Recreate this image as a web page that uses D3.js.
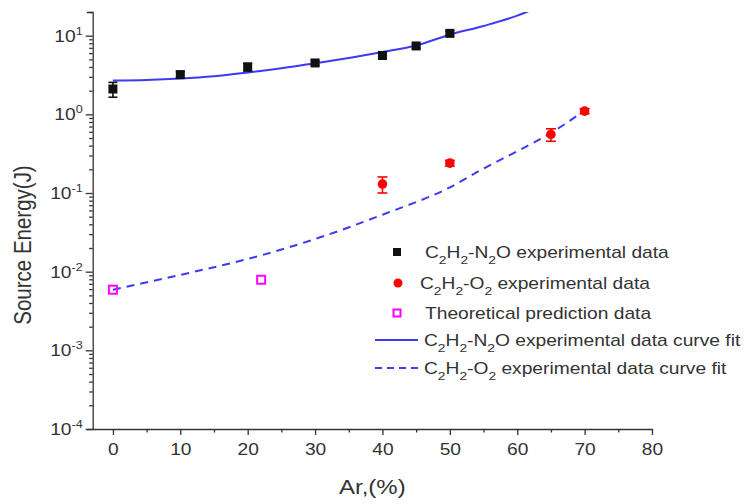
<!DOCTYPE html>
<html>
<head>
<meta charset="utf-8">
<script src="https://cdn.jsdelivr.net/npm/d3@7"></script>
<style>
  html, body { margin: 0; padding: 0; background: #fff; }
  svg { display: block; }
  text { font-family: "Liberation Sans", Arial, sans-serif; fill: #333; }
</style>
</head>
<body>
<svg id="chart" width="752" height="504"></svg>
<script>
// ---------------- data ----------------
const n2oAr = [0, 10, 20, 30, 40, 45, 50];
const n2oEnergy = [2.1, 3.2, 4.0, 4.5, 5.6, 7.4, 10.7];
const n2oErr = [0.45, 0.3, 0.45, 0.3, 0.4, 0.5, 0.8];

const o2Ar = [40, 50, 65, 70];
const o2Energy = [0.13, 0.24, 0.555, 1.1];
const o2Err = [0.03, 0.02, 0.1, 0.08];

const theoAr = [0, 22];
const theoEnergy = [0.0059, 0.0079];

const n2oFitAr = [0, 5, 10, 15, 20, 25, 30, 35, 40, 45, 50, 55, 60, 62];
const n2oFitEnergy = [2.7, 2.74, 2.85, 3.05, 3.4, 3.85, 4.45, 5.2, 6.2, 7.5, 10.3, 13.3, 18.0, 21.0];

const o2FitAr = [0, 10, 20, 30, 40, 50, 55, 60, 65, 70];
const o2FitEnergy = [0.0059, 0.0091, 0.0145, 0.026, 0.053, 0.118, 0.205, 0.34, 0.58, 1.12];

const xTickValues = [0, 10, 20, 30, 40, 50, 60, 70, 80];
const xMinorTicks = [5, 15, 25, 35, 45, 55, 65, 75];
const yMajorTicks = [1e-4, 1e-3, 1e-2, 1e-1, 1e0, 1e1];
const yTickExponents = ["-4", "-3", "-2", "-1", "0", "1"];

const xTitle = "Ar,(%)";
const yTitle = "Source Energy(J)";

const legendLabels = [
  [["C", 0], ["2", 1], ["H", 0], ["2", 1], ["-N", 0], ["2", 1], ["O experimental data", 0]],
  [["C", 0], ["2", 1], ["H", 0], ["2", 1], ["-O", 0], ["2", 1], [" experimental data", 0]],
  [["Theoretical prediction data", 0]],
  [["C", 0], ["2", 1], ["H", 0], ["2", 1], ["-N", 0], ["2", 1], ["O experimental data curve fit", 0]],
  [["C", 0], ["2", 1], ["H", 0], ["2", 1], ["-O", 0], ["2", 1], [" experimental data curve fit", 0]]
];

// ---------------- layout ----------------
const svg = d3.select("#chart");
const pLeft = 92.7, pRight = 652, pTop = 12, pBottom = 429;
const BLUE = "#3b3bf2", RED = "#ff0000", MAG = "#ff00ff", AXIS = "#333";
const SX = 1.2; // horizontal stretch of the reference's lettering

const x = d3.scaleLinear().domain([-3, 80]).range([pLeft, pRight]);
const y = d3.scaleLog().domain([1e-4, 20]).range([pBottom, pTop]);

svg.append("defs").append("clipPath").attr("id", "plotclip")
  .append("rect").attr("x", pLeft).attr("y", pTop).attr("width", pRight - pLeft).attr("height", pBottom - pTop);

// ---------------- axes ----------------
function styleAxis(g) {
  g.selectAll("path, line").attr("stroke", AXIS).attr("stroke-width", 1.3);
  g.select(".domain").attr("fill", "none");
}
const gx = svg.append("g").attr("transform", `translate(0,${pBottom})`)
  .call(d3.axisBottom(x).tickValues(xTickValues).tickSize(6).tickSizeOuter(0).tickPadding(9).tickFormat(d3.format("d")));
styleAxis(gx);
gx.selectAll("text").attr("font-size", 16).attr("fill", "#333")
  .attr("font-family", "Liberation Sans, Arial, sans-serif")
  .attr("transform", `scale(${SX},1)`);
const gxm = svg.append("g").attr("transform", `translate(0,${pBottom})`)
  .call(d3.axisBottom(x).tickValues(xMinorTicks).tickSize(3.5).tickSizeOuter(0).tickFormat(""));
styleAxis(gxm); gxm.select(".domain").remove();

const gy = svg.append("g").attr("transform", `translate(${pLeft},0)`)
  .call(d3.axisLeft(y).tickValues(yMajorTicks).tickSize(7).tickSizeOuter(6).tickFormat(""));
styleAxis(gy);
const yMinor = y.ticks().filter(v => !yMajorTicks.some(m => Math.abs(v / m - 1) < 1e-9));
const gym = svg.append("g").attr("transform", `translate(${pLeft},0)`)
  .call(d3.axisLeft(y).tickValues(yMinor).tickSize(3.5).tickSizeOuter(0).tickFormat(""));
styleAxis(gym); gym.select(".domain").remove();

yMajorTicks.forEach((v, i) => {
  const t = svg.append("text")
    .attr("transform", `translate(${pLeft - 10},${y(v) + 6}) scale(${SX},1)`)
    .attr("text-anchor", "end").attr("font-size", 16);
  t.append("tspan").text("10");
  t.append("tspan").attr("dy", -7).attr("font-size", 10.5).text(yTickExponents[i]);
});

svg.append("text").attr("transform", `translate(${(pLeft + pRight) / 2},494) scale(${SX},1)`)
  .attr("text-anchor", "middle").attr("font-size", 20).text(xTitle);
svg.append("text").attr("transform", `translate(31,245) scale(${SX},1) rotate(-90)`)
  .attr("text-anchor", "middle").attr("font-size", 20.5).text(yTitle);

// ---------------- fit curves ----------------
const plot = svg.append("g").attr("clip-path", "url(#plotclip)");
const line = d3.line().x(d => x(d[0])).y(d => y(d[1])).curve(d3.curveMonotoneX);

plot.append("path").datum(n2oFitAr.map((a, i) => [a, n2oFitEnergy[i]]))
  .attr("d", line).attr("fill", "none").attr("stroke", BLUE).attr("stroke-width", 2);
plot.append("path").datum(o2FitAr.map((a, i) => [a, o2FitEnergy[i]]))
  .attr("d", line).attr("fill", "none").attr("stroke", BLUE).attr("stroke-width", 2)
  .attr("stroke-dasharray", "8,6");

// ---------------- error bars & markers ----------------
function errorBars(ar, val, err, color, cap) {
  const g = svg.append("g").attr("stroke", color).attr("stroke-width", 1.6);
  ar.forEach((a, i) => {
    const cx = x(a), y1 = y(val[i] + err[i]), y2 = y(val[i] - err[i]);
    g.append("line").attr("x1", cx).attr("x2", cx).attr("y1", y1).attr("y2", y2);
    g.append("line").attr("x1", cx - cap).attr("x2", cx + cap).attr("y1", y1).attr("y2", y1);
    g.append("line").attr("x1", cx - cap).attr("x2", cx + cap).attr("y1", y2).attr("y2", y2);
  });
}
errorBars(n2oAr, n2oEnergy, n2oErr, "#111", 4.5);
errorBars(o2Ar, o2Energy, o2Err, RED, 5);

const sq = 9;
svg.append("g").selectAll("rect").data(n2oAr).join("rect")
  .attr("x", (d) => x(d) - sq / 2).attr("y", (d, i) => y(n2oEnergy[i]) - sq / 2)
  .attr("width", sq).attr("height", sq).attr("fill", "#111");

svg.append("g").selectAll("circle").data(o2Ar).join("circle")
  .attr("cx", d => x(d)).attr("cy", (d, i) => y(o2Energy[i])).attr("r", 4.8).attr("fill", RED);

svg.append("g").selectAll("rect").data(theoAr).join("rect")
  .attr("x", d => x(d) - 4).attr("y", (d, i) => y(theoEnergy[i]) - 4)
  .attr("width", 8).attr("height", 8).attr("fill", "none").attr("stroke", MAG).attr("stroke-width", 2);

// ---------------- legend ----------------
const legRows = [252, 283, 313, 340, 368];
const legTextX = [425, 420, 425, 424, 424];
const leg = svg.append("g");
leg.append("rect").attr("x", 397 - 4).attr("y", legRows[0] - 4).attr("width", 8).attr("height", 8).attr("fill", "#111");
leg.append("circle").attr("cx", 398).attr("cy", legRows[1]).attr("r", 4.5).attr("fill", RED);
leg.append("rect").attr("x", 397 - 3.5).attr("y", legRows[2] - 3.5).attr("width", 7).attr("height", 7)
  .attr("fill", "none").attr("stroke", MAG).attr("stroke-width", 2);
leg.append("line").attr("x1", 375).attr("x2", 418).attr("y1", legRows[3]).attr("y2", legRows[3])
  .attr("stroke", BLUE).attr("stroke-width", 2);
leg.append("line").attr("x1", 375).attr("x2", 418).attr("y1", legRows[4]).attr("y2", legRows[4])
  .attr("stroke", BLUE).attr("stroke-width", 2).attr("stroke-dasharray", "7,5");

legendLabels.forEach((segs, i) => {
  const t = leg.append("text")
    .attr("transform", `translate(${legTextX[i]},${legRows[i] + 6}) scale(${SX},1)`)
    .attr("font-size", 16);
  let shifted = false;
  segs.forEach(([s, sub]) => {
    const ts = t.append("tspan").text(s);
    if (sub && !shifted) { ts.attr("dy", 6).attr("font-size", 11.5); shifted = true; }
    else if (sub) { ts.attr("font-size", 11.5); }
    else if (!sub && shifted) { ts.attr("dy", -6); shifted = false; }
  });
});
</script>
</body>
</html>
